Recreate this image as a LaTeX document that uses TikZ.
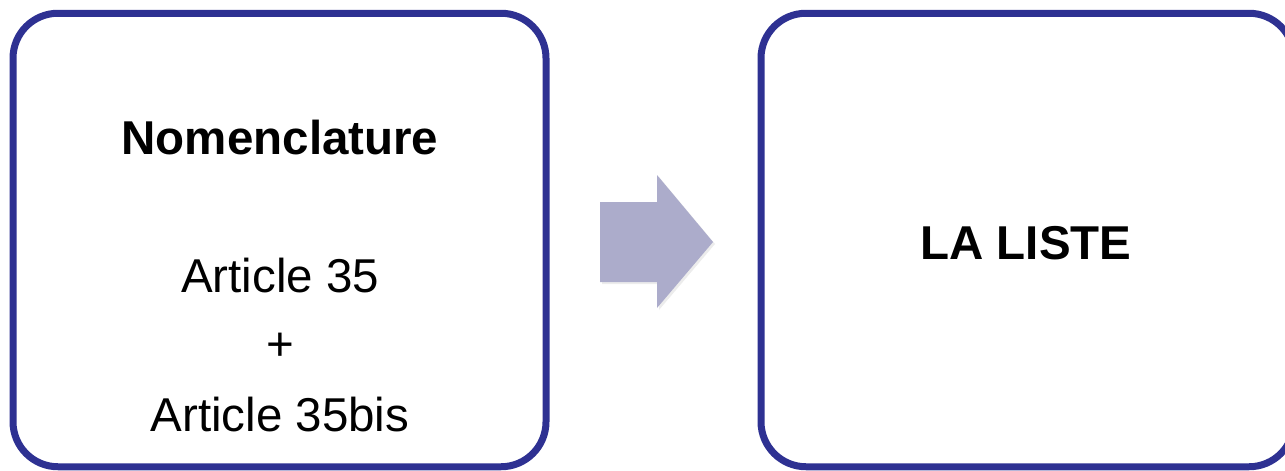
\documentclass[tikz,border=0pt]{standalone}
\usepackage{fontspec}
\setmainfont{Liberation Sans}
\usetikzlibrary{shadows}

\definecolor{boxblue}{HTML}{2E3192}
\definecolor{arrowgray}{HTML}{ACACCB}

\begin{document}
\begin{tikzpicture}[x=1pt, y=-1pt,
    box/.style={draw=boxblue, line width=7pt, rounded corners=45pt, fill=white,
        minimum width=533pt, minimum height=453.5pt, inner sep=0pt,
        drop shadow={opacity=0.2, shadow xshift=2pt, shadow yshift=-2pt}},
    label/.style={font=\fontsize{47.5}{57}\selectfont, inner sep=0pt}]
    \useasboundingbox (0,0) rectangle (1285,471);

    % Left box
    \node[box] (nomen) at (279.5,240) {};
    \node[label, font=\fontsize{47.5}{57}\selectfont\bfseries] (title) at (280,138) {Nomenclature};
    \node[label] (art) at (280,276) {Article 35};
    \node[label] (plus) at (280,347) {+};
    \node[label] (artbis) at (280,415) {Article 35bis};

    % Arrow
    \fill[arrowgray, drop shadow={opacity=0.15, shadow xshift=2pt, shadow yshift=-2pt}]
        (600,202) -- (657,202) -- (657,175) -- (713,242) -- (657,308) -- (657,282) -- (600,282) -- cycle;

    % Right box
    \node[box] (liste) at (1027.5,240) {};
    \node[label, font=\fontsize{47.5}{57}\selectfont\bfseries] (ltitle) at (1026,243) {LA LISTE};
\end{tikzpicture}
\end{document}
